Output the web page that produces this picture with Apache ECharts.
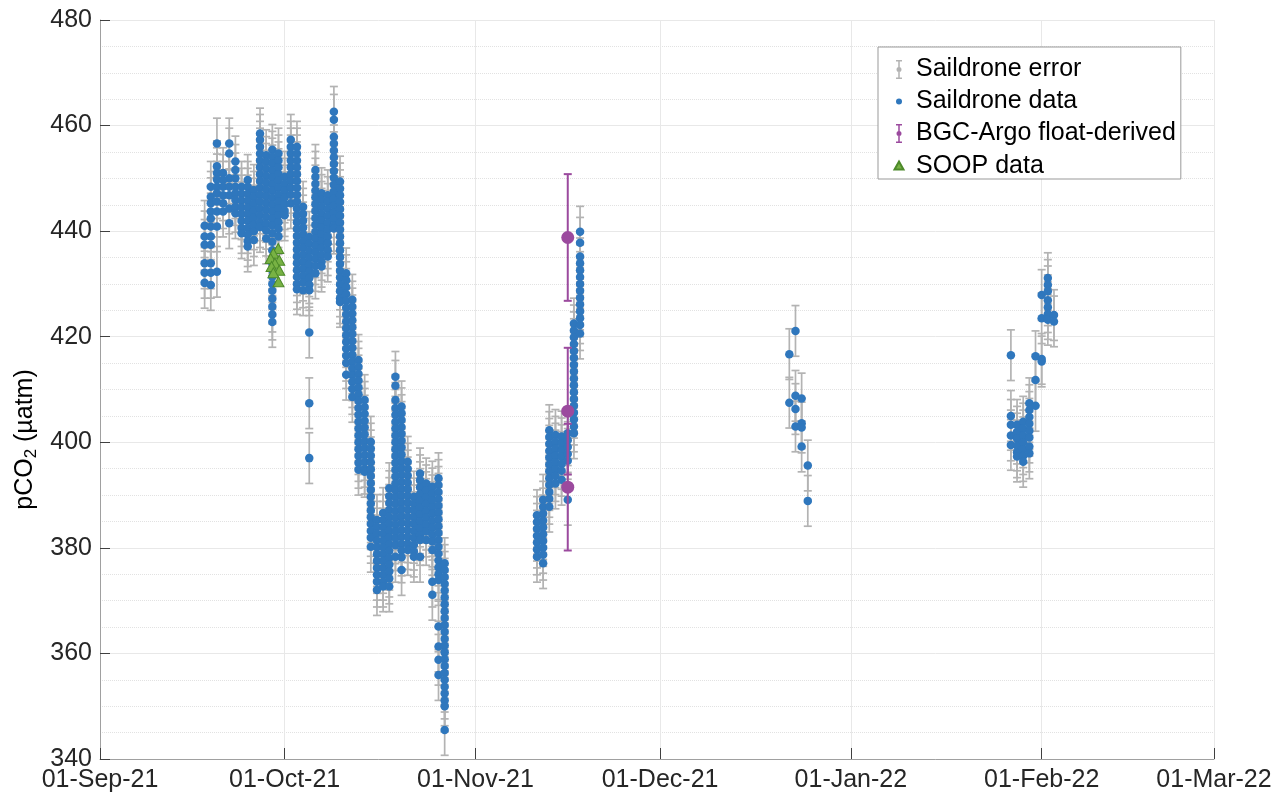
<!DOCTYPE html>
<html>
<head>
<meta charset="utf-8">
<title>pCO2 saildrone</title>
<script src="https://cdn.jsdelivr.net/npm/echarts@6/dist/echarts.min.js"></script>
<style>
  html, body { margin: 0; padding: 0; background: #fff; }
  #chart { width: 1285px; height: 796px; }
</style>
</head>
<body>
<div id="chart"></div>
<script>
// saildrone pCO2, one column of hourly values per day
const sdSepOct = [
  ['2021-09-18', [441.0, 439.0, 437.4, 433.9, 432.1, 430.2]],
  ['2021-09-19', [448.4, 446.5, 445.3, 443.7, 442.4, 440.9, 439.0, 437.4, 433.9, 432.1, 429.8]],
  ['2021-09-20', [456.6, 452.3, 451.0, 449.8, 448.4, 447.2, 445.6, 443.7, 440.9, 432.3]],
  ['2021-09-21', [451.0, 449.7, 448.4, 446.8, 445.3, 443.7]],
  ['2021-09-22', [456.6, 454.7, 450.0, 448.4, 446.8, 444.3, 441.5]],
  ['2021-09-23', [453.2, 451.6, 450.0, 448.4, 447.2, 445.9, 444.6, 443.4]],
  ['2021-09-24', [448.4, 447.1, 445.8, 444.5, 443.2, 441.9, 440.6, 439.6]],
  ['2021-09-25', [449.7, 448.4, 447.1, 445.8, 444.5, 443.2, 441.9, 440.6, 439.3, 438.1, 437.1]],
  ['2021-09-26', [447.8, 446.5, 445.2, 443.9, 442.6, 441.3, 440.0, 438.3]],
  ['2021-09-27', [458.5, 457.3, 456.0, 454.7, 453.4, 452.1, 450.8, 449.5, 448.2, 446.9, 445.6, 444.3, 443.0, 441.7, 440.8]],
  ['2021-09-28', [454.4, 453.1, 451.8, 450.5, 449.2, 447.9, 446.6, 445.3, 444.0, 442.7, 441.4, 440.1, 438.6]],
  ['2021-09-29', [455.4, 454.1, 452.8, 451.5, 450.2, 448.9, 447.6, 446.3, 445.0, 443.7, 442.4, 441.1, 439.6, 438.0, 436.4, 433.9, 432.6, 431.3, 430.0, 428.7, 427.2, 425.7, 424.2, 422.8]],
  ['2021-09-30', [454.7, 453.4, 452.1, 450.8, 449.5, 448.2, 446.9, 445.6, 444.3, 443.0, 441.7, 440.4, 439.0]],
  ['2021-10-01', [450.3, 449.0, 447.7, 446.4, 445.1, 443.8, 443.0]],
  ['2021-10-02', [457.3, 456.0, 454.7, 453.4, 452.1, 450.8, 449.5, 448.2, 446.9, 445.3]],
  ['2021-10-03', [456.0, 454.7, 453.4, 452.1, 450.8, 449.5, 448.2, 446.9, 445.6, 444.3, 443.0, 441.7, 440.4, 439.1, 437.8, 436.5, 435.2, 433.9, 432.6, 431.3, 430.0, 429.0]],
  ['2021-10-04', [444.6, 443.3, 442.0, 440.7, 439.4, 438.1, 436.8, 435.5, 434.2, 432.9, 431.6, 430.3, 428.8]],
  ['2021-10-05', [438.9, 437.6, 436.3, 435.0, 433.7, 432.4, 431.1, 429.8, 428.8, 420.8, 407.4, 397.0]],
  ['2021-10-06', [451.6, 450.3, 449.0, 447.7, 446.4, 445.1, 443.8, 442.5, 441.2, 439.9, 438.6, 437.3, 436.0, 434.7, 433.4, 432.0]],
  ['2021-10-07', [447.2, 445.9, 444.6, 443.3, 442.0, 440.7, 439.4, 438.1, 436.8, 435.5, 434.2, 433.3]],
  ['2021-10-08', [446.8, 445.5, 444.2, 442.9, 441.6, 440.3, 439.0, 437.7, 436.4, 435.2]],
  ['2021-10-09', [462.6, 461.1, 457.9, 456.6, 455.3, 454.0, 452.7, 451.4, 450.1, 448.8, 447.5, 446.2, 444.9, 443.6, 442.3, 441.0, 440.5]],
  ['2021-10-10', [449.4, 448.1, 446.8, 445.5, 444.2, 442.9, 441.6, 440.3, 439.0, 437.7, 436.4, 435.1, 433.8, 432.5, 431.2, 429.9, 428.6, 427.3, 426.6]],
  ['2021-10-11', [432.0, 430.7, 429.4, 428.1, 426.8, 425.5, 424.2, 422.9, 421.6, 420.3, 419.0, 417.7, 416.4, 415.0, 412.8]],
  ['2021-10-12', [427.0, 425.7, 424.4, 423.1, 421.8, 420.5, 419.2, 417.9, 416.6, 415.3, 414.0, 412.7, 411.4, 410.1, 408.6]],
  ['2021-10-13', [415.6, 414.3, 413.0, 411.7, 410.4, 409.1, 407.8, 406.5, 405.2, 403.9, 402.6, 401.3, 400.0, 398.7, 397.4, 396.1, 394.8]],
  ['2021-10-14', [408.0, 406.7, 405.4, 404.1, 402.8, 401.5, 400.2, 398.9, 397.6, 396.3, 395.0, 394.4]],
  ['2021-10-15', [400.1, 398.8, 397.5, 396.2, 394.9, 393.6, 392.3, 391.0, 389.7, 388.4, 387.1, 385.8, 384.5, 383.2, 381.9, 380.2]],
  ['2021-10-16', [385.3, 384.0, 382.7, 381.4, 380.1, 378.8, 377.5, 376.2, 374.9, 373.6, 372.0]],
  ['2021-10-17', [386.6, 385.3, 384.0, 382.7, 381.4, 380.1, 378.8, 377.5, 376.2, 374.9, 373.6, 372.7]],
  ['2021-10-18', [391.3, 389.8, 388.5, 387.2, 385.9, 384.6, 383.3, 382.0, 380.7, 379.4, 378.1, 376.8, 375.5, 374.2, 372.7]],
  ['2021-10-19', [412.4, 410.7, 408.0, 406.5, 405.2, 403.9, 402.6, 401.3, 400.0, 398.7, 397.4, 396.1, 394.8, 393.5, 392.2, 390.9, 389.6, 388.3, 387.0, 385.7, 384.4, 383.1, 381.8, 380.5, 378.3]],
  ['2021-10-20', [406.8, 405.5, 404.2, 402.9, 401.6, 400.3, 399.0, 397.7, 396.4, 395.1, 393.8, 392.5, 391.2, 389.9, 388.6, 387.3, 386.0, 384.7, 383.4, 382.1, 380.8, 379.5, 378.2, 375.8]],
  ['2021-10-21', [396.3, 395.0, 393.7, 392.4, 391.1, 389.8, 388.5, 387.2, 385.9, 384.6, 383.3, 382.0, 380.7, 379.6]],
  ['2021-10-22', [389.7, 388.4, 387.1, 385.8, 384.5, 383.2, 381.9, 380.6, 379.3, 378.3]],
  ['2021-10-23', [394.1, 392.8, 391.5, 390.2, 388.9, 387.6, 386.3, 385.0, 383.7, 382.4, 381.5, 378.3]],
  ['2021-10-24', [392.2, 390.9, 389.6, 388.3, 387.0, 385.7, 384.4, 383.1, 381.5]],
  ['2021-10-25', [391.6, 390.3, 389.0, 387.7, 386.4, 385.1, 383.8, 382.5, 381.2, 379.6, 373.6, 371.1]],
  ['2021-10-26', [393.2, 391.9, 390.6, 389.3, 388.0, 386.7, 385.4, 384.1, 382.8, 381.5, 380.2, 378.9, 377.6, 376.3, 375.0, 373.9, 365.1, 361.3, 358.8, 355.9]],
  ['2021-10-27', [377.1, 375.8, 374.5, 373.2, 371.9, 370.6, 369.3, 368.0, 366.7, 365.4, 364.1, 362.8, 361.5, 360.2, 358.9, 357.6, 356.3, 355.0, 353.7, 352.4, 351.1, 350.0, 345.5]]
];
const sdNov = [
  ['2021-11-11', [386.2, 384.9, 383.6, 382.3, 381.0, 379.7, 378.3]],
  ['2021-11-12', [389.1, 387.8, 386.5, 385.2, 383.9, 382.6, 381.3, 380.0, 378.7, 377.1]],
  ['2021-11-13', [402.3, 401.0, 399.7, 398.4, 397.1, 395.8, 394.5, 393.2, 391.9, 390.6, 389.3, 387.8]],
  ['2021-11-14', [401.4, 400.1, 398.8, 397.5, 396.2, 394.9, 393.6, 392.2]],
  ['2021-11-15', [401.1, 399.8, 398.5, 397.2, 395.9, 394.6, 392.9]],
  ['2021-11-16', [401.7, 400.4, 399.1, 397.8, 396.5, 389.1]],
  ['2021-11-17', [422.5, 421.2, 419.9, 418.6, 417.3, 416.0, 414.7, 413.4, 412.1, 410.8, 409.5, 408.2, 406.9, 405.6, 404.3, 403.0, 401.7]],
  ['2021-11-18', [439.9, 437.8, 435.2, 433.9, 432.6, 431.3, 430.0, 428.7, 427.4, 426.1, 424.8, 423.5, 422.2, 420.6]]
];
const sdDec = [
  ['2021-12-22', [416.7, 407.5]],
  ['2021-12-23', [421.1, 408.8, 406.3, 403.0]],
  ['2021-12-24', [408.3, 403.6, 402.8, 399.2]],
  ['2021-12-25', [395.6, 388.9]]
];
const sdJanFeb = [
  ['2022-01-27', [416.5, 405.0, 403.3, 401.3, 399.5]],
  ['2022-01-28', [403.3, 402.0, 400.7, 399.4, 398.1, 397.3]],
  ['2022-01-29', [403.9, 402.6, 401.3, 400.0, 398.7, 397.4, 396.3]],
  ['2022-01-30', [407.4, 406.1, 404.8, 403.5, 402.2, 400.9, 399.2, 397.9]],
  ['2022-01-31', [416.3, 411.8, 406.9]],
  ['2022-02-01', [427.9, 423.5, 415.8, 415.3]],
  ['2022-02-02', [431.1, 429.8, 428.6, 426.9, 425.6, 424.3, 423.2]],
  ['2022-02-03', [424.1, 422.9]]
];
const sdErr = 4.8;

// BGC-Argo float-derived pCO2 with uncertainty
const argoDates = ['2021-11-16', '2021-11-16', '2021-11-16'];
const argoValues = [438.8, 405.9, 391.5];
const argoErr = [12, 12, 12];

// SOOP underway data
const soopDates = ['2021-09-29 23:00', '2021-09-29 04:00', '2021-09-28 17:30', '2021-09-30 03:00', '2021-09-29 10:00',
                   '2021-09-28 21:00', '2021-09-30 03:00', '2021-09-29 04:00', '2021-09-30 00:00'];
const soopValues = [436.7, 435.8, 434.8, 434.5, 433.9, 433.3, 432.6, 432.1, 430.4];

const yTicks = [340, 360, 380, 400, 420, 440, 460, 480];
const monthNames = ['Jan', 'Feb', 'Mar', 'Apr', 'May', 'Jun', 'Jul', 'Aug', 'Sep', 'Oct', 'Nov', 'Dec'];

const FONT = 'Liberation Sans';

function flatten(cols) {
  const out = [];
  cols.forEach(function (c) {
    c[1].forEach(function (v) { out.push([c[0], v]); });
  });
  return out;
}

const sdPoints = [].concat(flatten(sdSepOct), flatten(sdNov), flatten(sdDec), flatten(sdJanFeb));
const sdErrData = sdPoints.map(function (p) { return [p[0], p[1], sdErr]; });
const argoData = argoValues.map(function (v, i) { return [argoDates[i], v, argoErr[i]]; });
const soopData = soopValues.map(function (v, i) { return [soopDates[i], v]; });

// error bar with caps + marker
function errorBar(color, lw, cap, r) {
  return function (params, api) {
    const x = api.value(0), v = api.value(1), e = api.value(2);
    const top = api.coord([x, v + e]);
    const bot = api.coord([x, v - e]);
    const mid = api.coord([x, v]);
    const st = { stroke: color, lineWidth: lw };
    return {
      type: 'group',
      children: [
        { type: 'line', shape: { x1: top[0], y1: top[1], x2: bot[0], y2: bot[1] }, style: st },
        { type: 'line', shape: { x1: top[0] - cap, y1: top[1], x2: top[0] + cap, y2: top[1] }, style: st },
        { type: 'line', shape: { x1: bot[0] - cap, y1: bot[1], x2: bot[0] + cap, y2: bot[1] }, style: st },
        { type: 'circle', shape: { cx: mid[0], cy: mid[1], r: r }, style: { fill: color } }
      ]
    };
  };
}

function fmtDate(val) {
  const d = new Date(val);
  const dd = d.getDate() < 10 ? '0' + d.getDate() : '' + d.getDate();
  return dd + '-' + monthNames[d.getMonth()] + '-' + String(d.getFullYear()).slice(2);
}

const iconErr = 'path://M0,0M24,24M9,2.5h6v1.5h-2.25v16h2.25v1.5h-6v-1.5h2.25v-16h-2.25zM9.5,12a2.5,2.5 0 1,1 5,0a2.5,2.5 0 1,1 -5,0z';
const iconDot = 'path://M0,0M24,24M9,12a3,3 0 1,1 6,0a3,3 0 1,1 -6,0z';
const iconTri = 'path://M0,0M24,24M12,7.5L16.5,15.5H7.5z';

const chart = echarts.init(document.getElementById('chart'));
chart.setOption({
  animation: false,
  backgroundColor: '#fff',
  textStyle: { fontFamily: FONT },
  grid: { left: 100, right: 71, top: 20, bottom: 37 },
  legend: {
    orient: 'vertical',
    left: 878,
    top: 47,
    padding: [10, 5, 0, 8],
    itemGap: 7,
    itemWidth: 24,
    itemHeight: 24,
    backgroundColor: '#fff',
    borderColor: '#999',
    borderWidth: 1,
    borderRadius: 0,
    selectedMode: false,
    textStyle: { fontFamily: FONT, fontSize: 25, color: '#000', lineHeight: 25 },
    data: [
      { name: 'Saildrone error', icon: iconErr },
      { name: 'Saildrone data', icon: iconDot },
      { name: 'BGC-Argo float-derived', icon: iconErr },
      { name: 'SOOP data', icon: iconTri }
    ]
  },
  xAxis: {
    type: 'time',
    min: '2021-09-01',
    max: '2022-03-01',
    splitNumber: 6,
    axisLine: { lineStyle: { color: '#a0a0a0', width: 1 } },
    axisTick: { inside: true, length: 11, lineStyle: { color: '#404040' } },
    axisLabel: {
      formatter: fmtDate, margin: 9, fontSize: 25, color: '#262626', fontFamily: FONT,
      showMinLabel: true, showMaxLabel: true, hideOverlap: false
    },
    splitLine: { show: true, lineStyle: { color: '#e8e8e8', width: 1 } }
  },
  yAxis: {
    type: 'value',
    min: yTicks[0],
    max: yTicks[yTicks.length - 1],
    interval: 20,
    name: '{a|pCO}{s|2}{a| (µatm)}',
    nameLocation: 'middle',
    nameGap: 55,
    nameTextStyle: {
      padding: [0, 100, 0, 0],
      rich: {
        a: { fontFamily: FONT, fontSize: 25, color: '#000', lineHeight: 30 },
        s: { fontFamily: FONT, fontSize: 17, color: '#000', lineHeight: 30, padding: [12, 0, 0, 0] }
      }
    },
    axisLine: { show: true, lineStyle: { color: '#a0a0a0', width: 1 } },
    axisTick: { show: true, inside: true, length: 10, lineStyle: { color: '#404040' } },
    axisLabel: { margin: 8, fontSize: 25, color: '#262626', fontFamily: FONT },
    splitLine: { show: true, lineStyle: { color: '#e8e8e8', width: 1 } },
    minorTick: { show: false, splitNumber: 4 },
    minorSplitLine: { show: true, lineStyle: { color: '#e2e2e2', width: 1, type: 'dotted' } }
  },
  series: [
    {
      name: 'Saildrone error',
      type: 'custom',
      renderItem: errorBar('#b3b3b3', 1.7, 4, 2.5),
      itemStyle: { color: '#b3b3b3' },
      encode: { x: 0, y: 1 },
      data: sdErrData,
      z: 2
    },
    {
      name: 'Saildrone data',
      type: 'scatter',
      symbol: 'circle',
      symbolSize: 8.5,
      itemStyle: { color: '#2f77bd', opacity: 1 },
      data: sdPoints,
      z: 3
    },
    {
      name: 'BGC-Argo float-derived',
      type: 'custom',
      renderItem: errorBar('#9b4a9e', 2, 4, 6.5),
      itemStyle: { color: '#9b4a9e' },
      encode: { x: 0, y: 1 },
      data: argoData,
      z: 4
    },
    {
      name: 'SOOP data',
      type: 'scatter',
      symbol: 'triangle',
      symbolSize: [11, 10],
      itemStyle: { color: '#78b244', borderColor: '#4d8a2a', borderWidth: 1, opacity: 1 },
      data: soopData,
      z: 5
    }
  ]
});
</script>
</body>
</html>
